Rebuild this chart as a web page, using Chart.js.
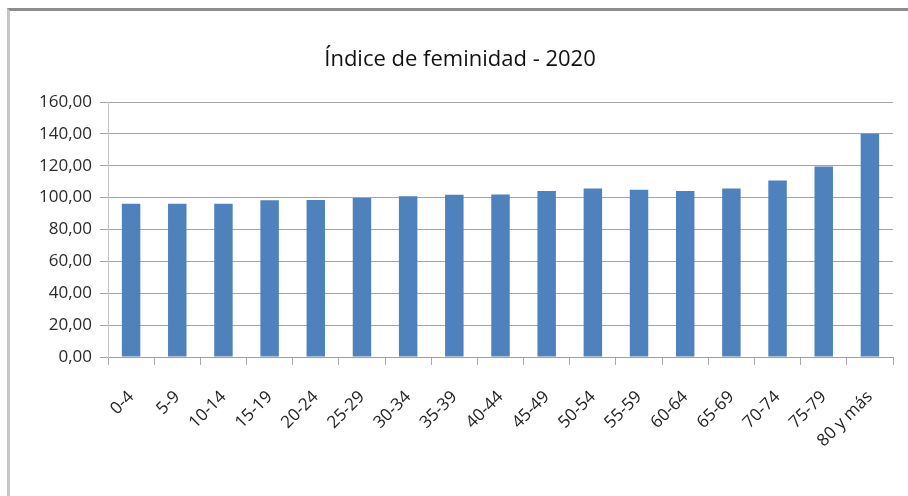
<!DOCTYPE html>
<html>
<head>
<meta charset="utf-8">
<script src="https://cdn.jsdelivr.net/npm/chart.js@4"></script>
<style>
    html, body { margin: 0; padding: 0; background: #fff; }
    #wrap { position: relative; width: 908px; height: 496px; overflow: hidden; }
    #frame {
        position: absolute; left: 7px; top: 8px; width: 910px; height: 500px;
        border-top: 3px solid #8c8c8c; border-left: 3px solid #c6c6c6;
    }
    canvas { position: absolute; left: 0; top: 0; }
</style>
</head>
<body>
<div id="wrap">
    <div id="frame"></div>
    <canvas id="chart" width="908" height="496"></canvas>
</div>
<script>
const titleText = "Índice de feminidad - 2020";
const ageGroups = ["0-4", "5-9", "10-14", "15-19", "20-24", "25-29", "30-34", "35-39", "40-44",
    "45-49", "50-54", "55-59", "60-64", "65-69", "70-74", "75-79", "80 y más"];
const indexValues = [96.2, 96.1, 96.1, 98.4, 98.5, 99.8, 100.9, 101.8, 101.9,
    104.1, 105.7, 105.0, 104.1, 105.8, 110.7, 119.6, 140.1];
const yMin = 0;
const yMax = 160;
const yStep = 20;

const fontFamily = "'Open Sans', 'Noto Sans', sans-serif";

// left padding shifts the title centre to where the original had it
const chart = new Chart(document.getElementById("chart").getContext("2d"), {
    type: "bar",
    data: {
        labels: ageGroups,
        datasets: [{
            data: indexValues,
            backgroundColor: "#4f81bd",
            borderWidth: 0,
            barPercentage: 0.4,
            categoryPercentage: 1.0
        }]
    },
    options: {
        responsive: false,
        animation: false,
        layout: { padding: { left: 27, right: 15, top: 0, bottom: 0 } },
        plugins: {
            legend: { display: false },
            tooltip: { enabled: false },
            title: {
                display: true,
                text: titleText,
                color: "#111111",
                font: { family: fontFamily, size: 22, weight: "normal" },
                padding: { top: 47, bottom: 28.6 }
            }
        },
        scales: {
            x: {
                grid: {
                    offset: true,
                    drawOnChartArea: false,
                    drawTicks: true,
                    tickLength: 8,
                    color: "#a8a8a8"
                },
                border: { display: true, color: "#a0a0a0" },
                ticks: {
                    autoSkip: false,
                    minRotation: 45,
                    maxRotation: 45,
                    padding: 22,
                    color: "#222222",
                    font: { family: fontFamily, size: 17 }
                },
                afterFit: (scale) => { scale.height = 139; }
            },
            y: {
                min: yMin,
                max: yMax,
                ticks: {
                    stepSize: yStep,
                    padding: 8,
                    color: "#2a2a2a",
                    font: { family: fontFamily, size: 17 },
                    callback: (v) => v.toFixed(2).replace(".", ",")
                },
                grid: {
                    color: "#a4a4a4",
                    tickLength: 8,
                    drawTicks: true
                },
                border: { display: true, color: "#c4c4c4" },
                afterFit: (scale) => { scale.width = 81; }
            }
        }
    }
});
</script>
</body>
</html>
